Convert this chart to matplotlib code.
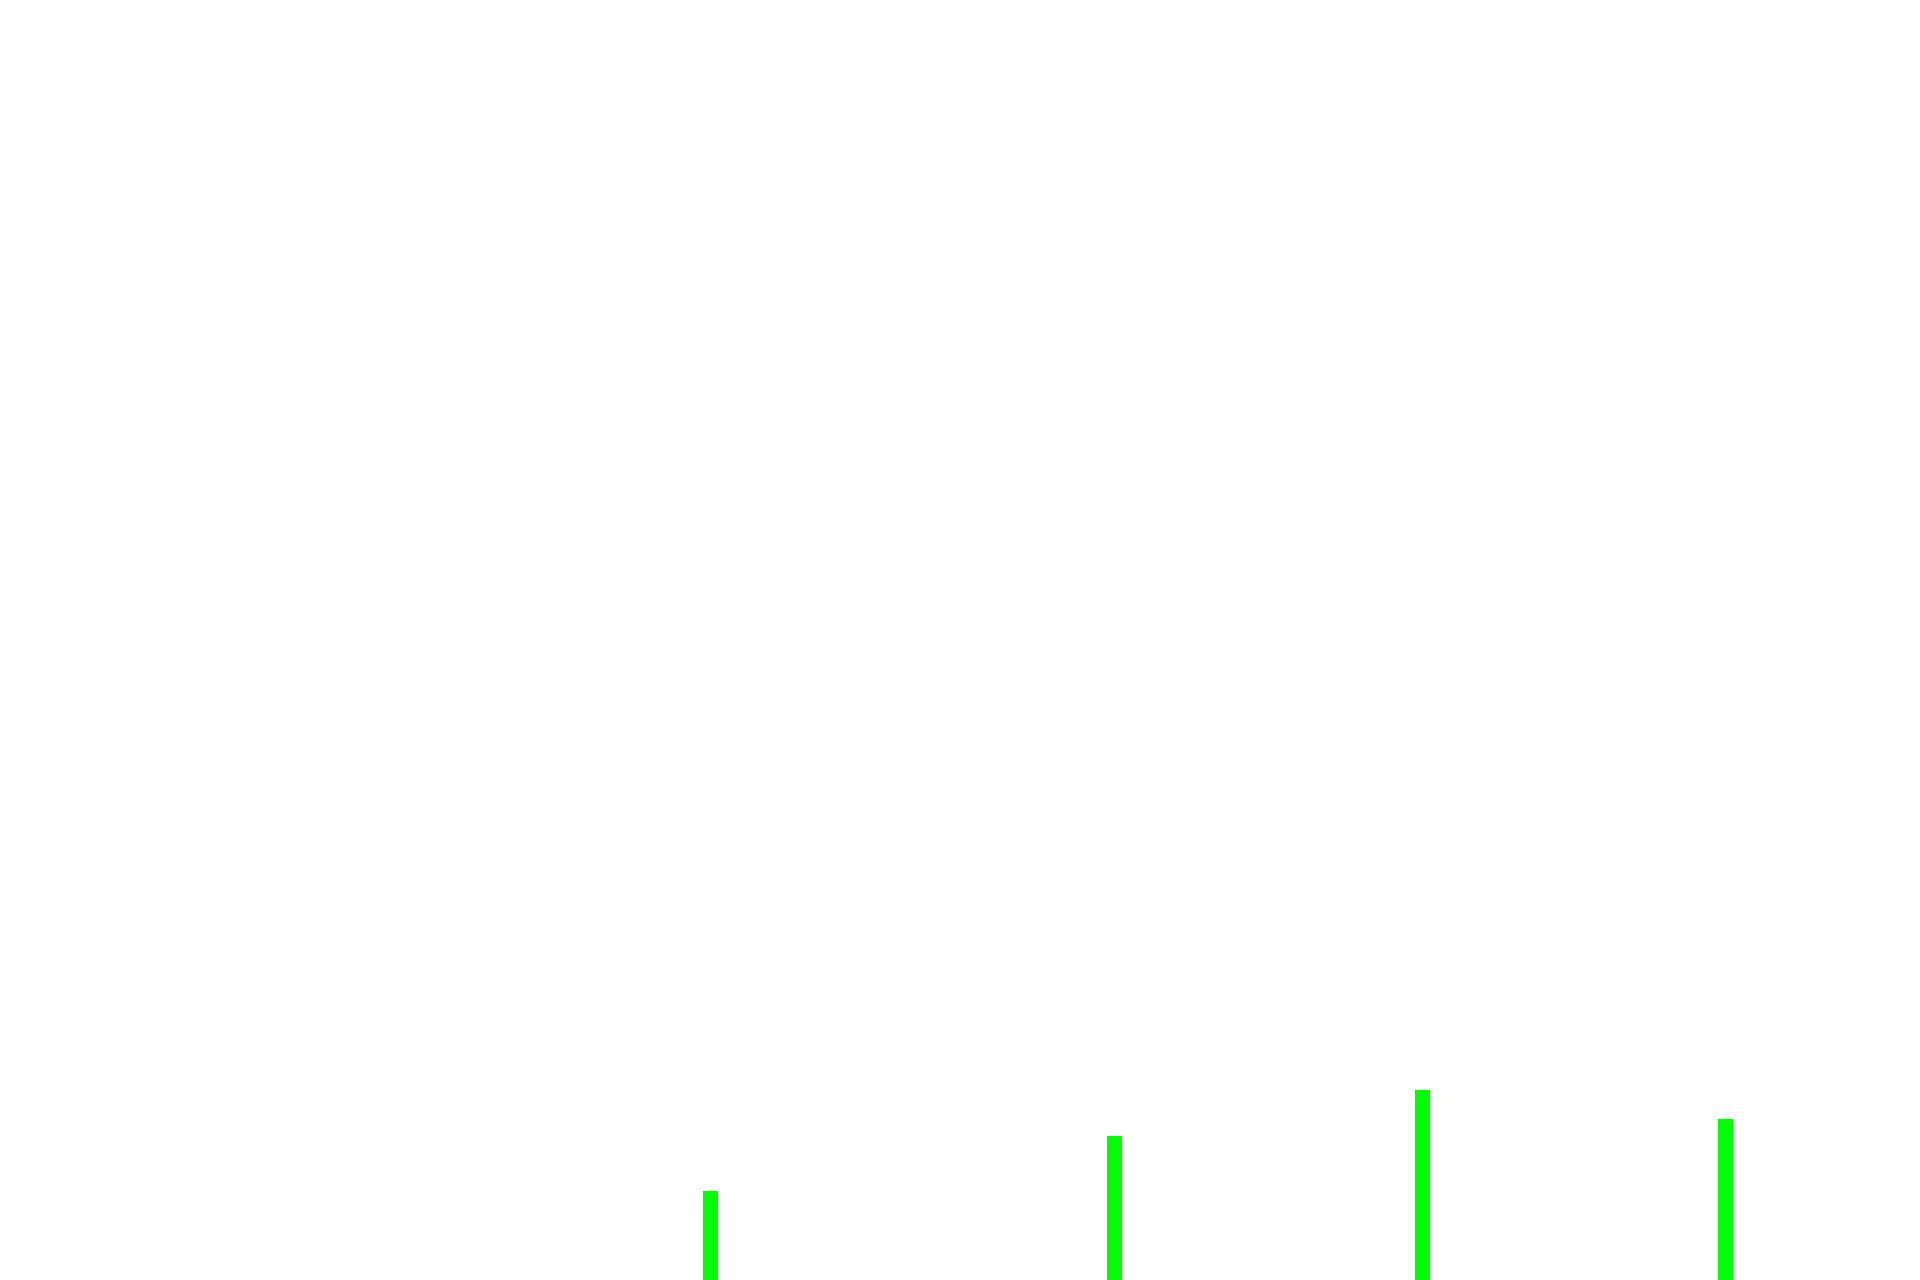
import matplotlib
matplotlib.use("Agg")
import matplotlib.pyplot as plt

# Data
x_values = [7.1, 11.14, 14.22, 17.25]
bar_values = [8.9, 14.4, 19.0, 16.1]

fig = plt.figure(figsize=(19.2, 12.8), dpi=100)
ax = fig.add_axes([0, 0, 1, 1])
ax.bar(x_values, bar_values, width=0.15, color="#00ff00", linewidth=0)
ax.set_xlim(0, 19.2)
ax.set_ylim(0, 128)
ax.axis("off")
fig.savefig("out.png", dpi=100, facecolor="white")
